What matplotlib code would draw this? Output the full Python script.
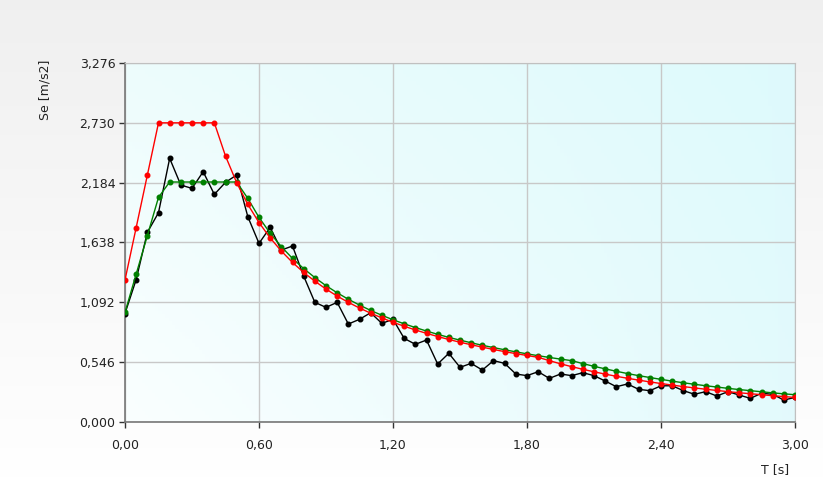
import numpy as np
import matplotlib
matplotlib.use("Agg")
import matplotlib.pyplot as plt

# ---- data ----
periods = [0.00, 0.05, 0.10, 0.15, 0.20, 0.25, 0.30, 0.35, 0.40, 0.45,
           0.50, 0.55, 0.60, 0.65, 0.70, 0.75, 0.80, 0.85, 0.90, 0.95,
           1.00, 1.05, 1.10, 1.15, 1.20, 1.25, 1.30, 1.35, 1.40, 1.45,
           1.50, 1.55, 1.60, 1.65, 1.70, 1.75, 1.80, 1.85, 1.90, 1.95,
           2.00, 2.05, 2.10, 2.15, 2.20, 2.25, 2.30, 2.35, 2.40, 2.45,
           2.50, 2.55, 2.60, 2.65, 2.70, 2.75, 2.80, 2.85, 2.90, 2.95,
           3.00]

se_red = [1.296, 1.774, 2.252, 2.730, 2.730, 2.730, 2.730, 2.730, 2.730, 2.427,
          2.184, 1.985, 1.820, 1.680, 1.560, 1.456, 1.365, 1.285, 1.213, 1.149,
          1.092, 1.040, 0.993, 0.950, 0.910, 0.874, 0.840, 0.809, 0.780, 0.753,
          0.728, 0.705, 0.683, 0.662, 0.642, 0.624, 0.607, 0.590, 0.560, 0.531,
          0.505, 0.481, 0.458, 0.437, 0.417, 0.399, 0.382, 0.366, 0.351, 0.337,
          0.323, 0.311, 0.299, 0.288, 0.277, 0.267, 0.258, 0.249, 0.240, 0.232,
          0.224]

se_green = [1.000, 1.350, 1.700, 2.050, 2.190, 2.190, 2.190, 2.190, 2.190, 2.190,
            2.190, 2.040, 1.867, 1.723, 1.600, 1.493, 1.400, 1.318, 1.244, 1.179,
            1.120, 1.067, 1.018, 0.974, 0.933, 0.896, 0.862, 0.830, 0.800, 0.772,
            0.747, 0.723, 0.700, 0.679, 0.659, 0.640, 0.622, 0.605, 0.589, 0.574,
            0.560, 0.533, 0.508, 0.485, 0.463, 0.442, 0.423, 0.406, 0.389, 0.373,
            0.358, 0.344, 0.331, 0.319, 0.307, 0.296, 0.286, 0.276, 0.266, 0.257,
            0.249]

se_black = [0.990, 1.300, 1.730, 1.910, 2.406, 2.162, 2.132, 2.284, 2.077, 2.187,
            2.254, 1.873, 1.630, 1.776, 1.569, 1.606, 1.332, 1.092, 1.046, 1.092,
            0.894, 0.937, 0.997, 0.900, 0.937, 0.763, 0.709, 0.748, 0.529, 0.627,
            0.499, 0.535, 0.474, 0.560, 0.535, 0.438, 0.423, 0.459, 0.398, 0.438,
            0.423, 0.450, 0.423, 0.374, 0.322, 0.347, 0.298, 0.286, 0.330, 0.331,
            0.286, 0.253, 0.277, 0.237, 0.277, 0.246, 0.216, 0.262, 0.253, 0.200,
            0.225]

x_ticks = [0.0, 0.6, 1.2, 1.8, 2.4, 3.0]
x_tick_labels = ["0,00", "0,60", "1,20", "1,80", "2,40", "3,00"]
y_ticks = [0.0, 0.546, 1.092, 1.638, 2.184, 2.730, 3.276]
y_tick_labels = ["0,000", "0,546", "1,092", "1,638", "2,184", "2,730", "3,276"]

W, H = 823, 482
fig = plt.figure(figsize=(W / 100, H / 100), dpi=100)
fig.patch.set_facecolor("#ffffff")

# figure background gradient
bg = fig.add_axes([0, 0, 1, 1], zorder=-10)
bg.set_axis_off()
gy = np.linspace(0, 1, 100)[:, None]
gx = np.linspace(0, 1, 100)[None, :]
top = np.array([0.94, 0.94, 0.94])
bot = np.array([1.0, 1.0, 1.0])
t = np.clip(gy * 1.0 + 0 * gx, 0, 1)
img = top[None, None, :] * (1 - t[..., None]) + bot[None, None, :] * t[..., None]
bg.imshow(img, aspect="auto", extent=[0, 1, 0, 1], origin="upper")
bg.set_xlim(0, 1)
bg.set_ylim(0, 1)

left, right = 125 / W, 795 / W
bottom, topp = 1 - 422 / H, 1 - 63 / H
ax = fig.add_axes([left, bottom, right - left, topp - bottom])

# plot area gradient (light cyan)
c_tl = np.array([0.93, 0.99, 0.99])
c_tr = np.array([0.87, 0.98, 0.99])
c_bl = np.array([0.98, 1.00, 1.00])
c_br = np.array([0.89, 0.98, 0.99])
u = np.linspace(0, 1, 200)[None, :, None]
v = np.linspace(0, 1, 100)[:, None, None]
grad = (c_tl * (1 - u) * (1 - v) + c_tr * u * (1 - v) + c_bl * (1 - u) * v + c_br * u * v)
ax.imshow(grad, aspect="auto", extent=[0, 3.0, 0, 3.276], origin="upper", zorder=0)

ax.set_xlim(0, 3.0)
ax.set_ylim(0, 3.276)

ax.grid(True, color="#c8c8c8", linewidth=1.0, zorder=1)
ax.set_axisbelow(True)

ms = 3.3
ax.plot(periods, se_black, color="black", lw=1.0, marker="o", ms=ms, zorder=3)
ax.plot(periods, se_green, color="#008000", lw=1.0, marker="o", ms=ms, zorder=4)
ax.plot(periods, se_red, color="#ff0000", lw=1.0, marker="o", ms=ms, zorder=5)

ax.set_xticks(x_ticks)
ax.set_xticklabels(x_tick_labels)
ax.set_yticks(y_ticks)
ax.set_yticklabels(y_tick_labels)
ax.tick_params(axis="both", labelsize=9, colors="#333333", length=4, width=1,
               direction="out", labelcolor="#222222", pad=3)
ax.tick_params(axis="x", pad=8)

for side in ["top", "right"]:
    ax.spines[side].set_color("#c0c0c0")
for side in ["left", "bottom"]:
    ax.spines[side].set_color("#777777")
    ax.spines[side].set_linewidth(1.2)

fig.text(45 / W, 1 - 90 / H, "Se [m/s2]", rotation=90, ha="center", va="center",
         fontsize=9, color="#222222")
fig.text(775 / W, 1 - 470 / H, "T [s]", ha="center", va="center",
         fontsize=9, color="#222222")

fig.savefig("out.png", dpi=100)
